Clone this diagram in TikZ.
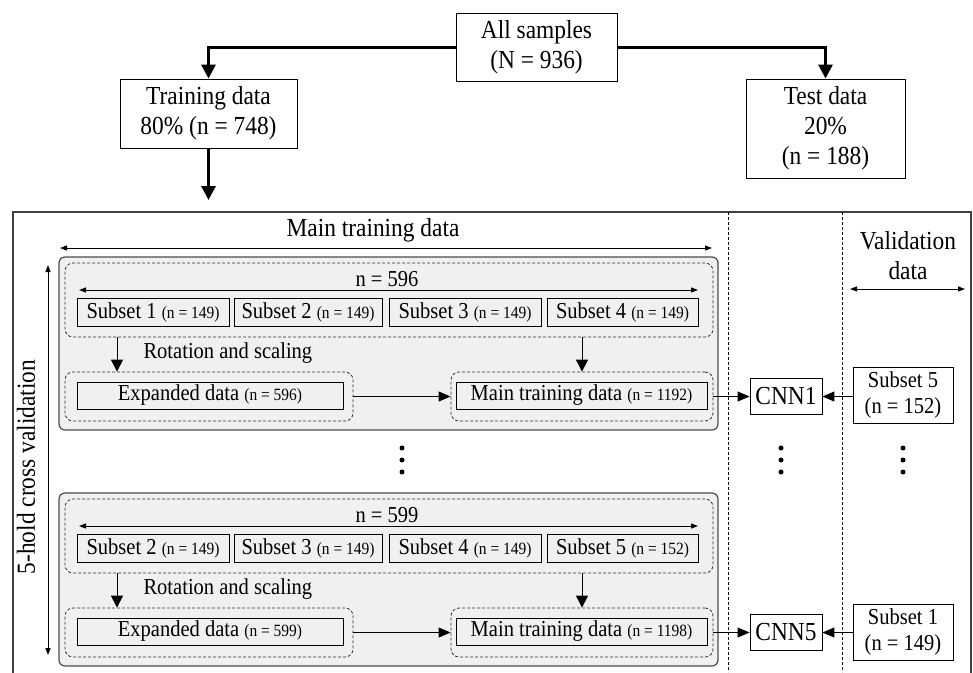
\documentclass[tikz,border=0pt]{standalone}
\usepackage{fontspec}
\setmainfont[FakeStretch=0.9]{Liberation Serif}
\usetikzlibrary{arrows.meta}

\newcommand{\bigtxt}{\fontsize{26}{30}\selectfont}
\newcommand{\midtxt}{\fontsize{22.8}{26}\selectfont}
\newcommand{\smalltxt}{\fontsize{17.2}{18}\selectfont}

\tikzset{
  plainbox/.style={draw=black, line width=0.9pt, inner sep=0pt, align=center},
  topbox/.style={plainbox, font=\bigtxt},
  subbox/.style={plainbox, font=\midtxt, minimum height=28pt},
  wbox/.style={plainbox, font=\midtxt, minimum height=27pt},
  cnnbox/.style={plainbox, font=\bigtxt, minimum width=72pt, minimum height=36pt},
  valbox/.style={plainbox, font=\midtxt, minimum width=100pt, minimum height=56pt},
  dashbox/.style={draw=black!80, line width=0.8pt, dash pattern=on 3pt off 2pt,
                  rounded corners=8pt, inner sep=0pt},
  greybox/.style={draw=black!70, fill=black!6, line width=1.2pt,
                  rounded corners=6pt, inner sep=0pt},
  bigarrow/.style={line width=3pt, -{Triangle[length=14pt,width=14pt]}},
  flowarrow/.style={line width=1pt, -{Triangle[length=12pt,width=12pt]}},
  sidearrow/.style={line width=1pt, -{Triangle[length=12pt,width=10pt]}},
  spanarrow/.style={line width=1pt, {Triangle[length=7pt,width=5pt]}-{Triangle[length=7pt,width=5pt]}},
  colline/.style={line width=0.8pt, dash pattern=on 3pt off 2pt},
  dot/.style={circle, fill=black, inner sep=0pt, minimum size=5pt},
}

\begin{document}
\begin{tikzpicture}[x=1pt, y=-1pt]
\useasboundingbox (0,0) rectangle (973,672);
\clip (0,0) rectangle (973,672);

% ---------- split of all samples ----------
\node[topbox, minimum width=161pt, minimum height=68pt] (all) at (536.5,47) {All samples\\(N = 936)};
\node[topbox, minimum width=177pt, minimum height=69pt] (train) at (208.5,113.5) {Training data\\80\% (n = 748)};
\node[topbox, minimum width=159pt, minimum height=99pt] (test) at (825.5,128.5) {Test data\\20\%\\(n = 188)};
\coordinate (trainend) at (208.5,200);

\draw[bigarrow] (all.west) -| (train.north);
\draw[bigarrow] (all.east) -| (test.north);
\draw[bigarrow] (train.south) -- (trainend);

% ---------- cross-validation frame ----------
\node[draw=black!75, line width=1.2pt, minimum width=958pt, minimum height=468pt, inner sep=0pt] (frame) at (492,446) {};

\coordinate (colA) at (728,212);
\coordinate (colAend) at (728,672);
\coordinate (colB) at (842,212);
\coordinate (colBend) at (842,672);
\draw[colline] (colA) -- (colAend);
\draw[colline] (colB) -- (colBend);

\node[font=\bigtxt] (mainhead) at (373,230) {Main training data};
\coordinate (mh1) at (60,248);
\coordinate (mh2) at (712,248);
\draw[spanarrow] (mh1) -- (mh2);

\node[font=\bigtxt, align=center] (valhead) at (908,256) {Validation\\data};
\coordinate (vh1) at (850,289);
\coordinate (vh2) at (965,289);
\draw[spanarrow] (vh1) -- (vh2);

\coordinate (cv1) at (48,265);
\coordinate (cv2) at (48,655);
\draw[spanarrow] (cv1) -- (cv2);
\node[font=\bigtxt, rotate=90] (cvlabel) at (26,467) {5-hold cross validation};

\coordinate (rotx) at (117,0);

% ---------- fold 1 ----------
\node[greybox, minimum width=659pt, minimum height=173pt] (grpA) at (388.5,343.5) {};
\node[dashbox, minimum width=648pt, minimum height=74pt] (setsA) at (389,300) {};
\node[font=\midtxt] (nA) at (387,279) {n = 596};
\coordinate (nA1) at (79,290);
\coordinate (nA2) at (698,290);
\draw[spanarrow] (nA1) -- (nA2);
\node[subbox, minimum width=152pt] (sA1) at (153,312) {Subset 1 {\smalltxt(n = 149)}};
\node[subbox, minimum width=148pt] (sA2) at (308,312) {Subset 2 {\smalltxt(n = 149)}};
\node[subbox, minimum width=152pt] (sA3) at (465,312) {Subset 3 {\smalltxt(n = 149)}};
\node[subbox, minimum width=151pt] (sA4) at (622.5,312) {Subset 4 {\smalltxt(n = 149)}};
\node[dashbox, minimum width=288pt, minimum height=49pt] (expdA) at (209,396.5) {};
\node[wbox, minimum width=266pt] (expA) at (210,395.5) {Expanded data {\smalltxt(n = 596)}};
\node[dashbox, minimum width=262pt, minimum height=49pt] (maindA) at (582,396.5) {};
\node[wbox, minimum width=251pt] (mainA) at (581.5,395.5) {Main training data {\smalltxt(n = 1192)}};
\node[font=\midtxt, anchor=west] (rotA) at (140,353) {Rotation and scaling};
\draw[flowarrow] (setsA.south -| rotx) -- (expdA.north -| rotx);
\draw[flowarrow] (setsA.south -| maindA.north) -- (maindA.north);
\draw[sidearrow] (expdA.east) -- (maindA.west);
\node[cnnbox] (cnn1) at (786,396.5) {CNN1};
\node[valbox, align=center] (valA) at (903,395) {Subset 5\\(n = 152)};
\draw[sidearrow] (maindA.east) -- (cnn1.west);
\draw[sidearrow] (valA.west |- cnn1.east) -- (cnn1.east);

% ---------- omitted folds ----------
\foreach \px/\nm in {402/l, 781/c, 903/r} {
  \node[dot] (dot\nm1) at (\px,448) {};
  \node[dot] (dot\nm2) at (\px,460) {};
  \node[dot] (dot\nm3) at (\px,472) {};
}

% ---------- fold 5 ----------
\node[greybox, minimum width=659pt, minimum height=173pt] (grpB) at (388.5,579.5) {};
\node[dashbox, minimum width=648pt, minimum height=74pt] (setsB) at (389,536) {};
\node[font=\midtxt] (nB) at (387,515) {n = 599};
\coordinate (nB1) at (79,526);
\coordinate (nB2) at (698,526);
\draw[spanarrow] (nB1) -- (nB2);
\node[subbox, minimum width=152pt] (sB1) at (153,548) {Subset 2 {\smalltxt(n = 149)}};
\node[subbox, minimum width=148pt] (sB2) at (308,548) {Subset 3 {\smalltxt(n = 149)}};
\node[subbox, minimum width=152pt] (sB3) at (465,548) {Subset 4 {\smalltxt(n = 149)}};
\node[subbox, minimum width=151pt] (sB4) at (622.5,548) {Subset 5 {\smalltxt(n = 152)}};
\node[dashbox, minimum width=288pt, minimum height=49pt] (expdB) at (209,632.5) {};
\node[wbox, minimum width=266pt] (expB) at (210,631.5) {Expanded data {\smalltxt(n = 599)}};
\node[dashbox, minimum width=262pt, minimum height=49pt] (maindB) at (582,632.5) {};
\node[wbox, minimum width=251pt] (mainB) at (581.5,631.5) {Main training data {\smalltxt(n = 1198)}};
\node[font=\midtxt, anchor=west] (rotB) at (140,589) {Rotation and scaling};
\draw[flowarrow] (setsB.south -| rotx) -- (expdB.north -| rotx);
\draw[flowarrow] (setsB.south -| maindB.north) -- (maindB.north);
\draw[sidearrow] (expdB.east) -- (maindB.west);
\node[cnnbox] (cnn5) at (786,632.5) {CNN5};
\node[valbox, align=center] (valB) at (903,632.5) {Subset 1\\(n = 149)};
\draw[sidearrow] (maindB.east) -- (cnn5.west);
\draw[sidearrow] (valB.west |- cnn5.east) -- (cnn5.east);
\end{tikzpicture}
\end{document}
